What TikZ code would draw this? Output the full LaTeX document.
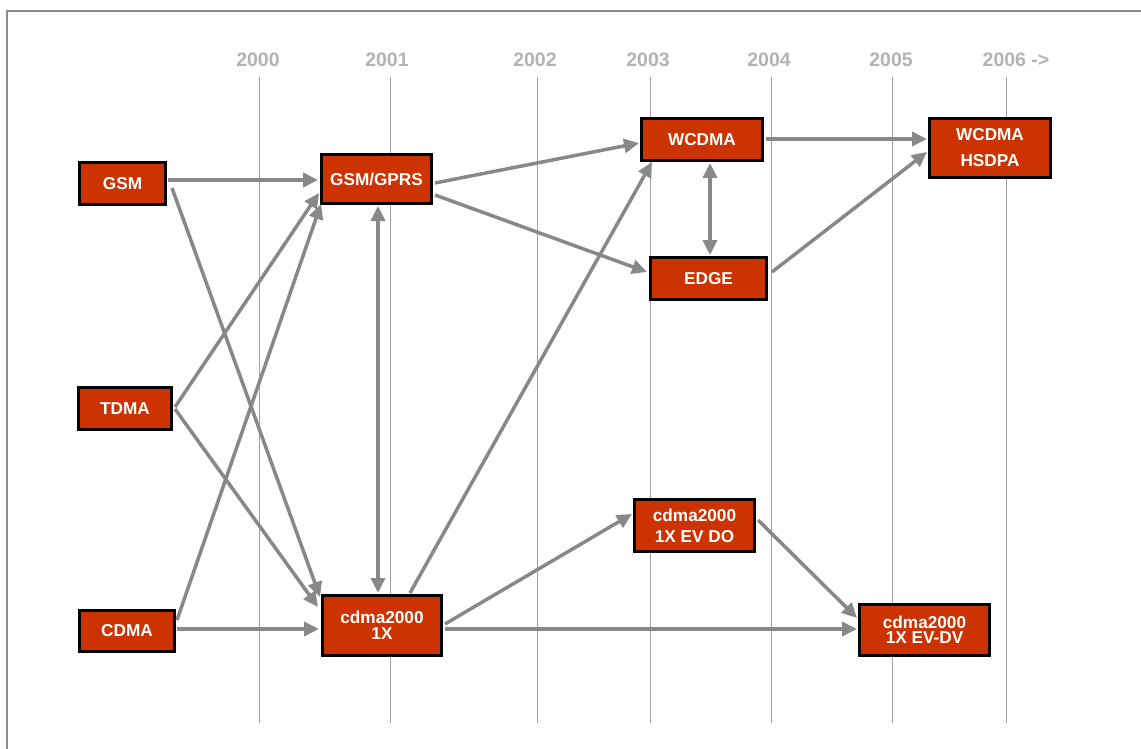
\documentclass[tikz,border=0pt]{standalone}
\usepackage{fontspec}
\setmainfont{Liberation Sans}
\usetikzlibrary{calc,arrows.meta}
\definecolor{boxred}{HTML}{CC3300}
\definecolor{arrowgray}{HTML}{888888}
\definecolor{yeargray}{HTML}{B3B3B3}
\definecolor{gridgray}{HTML}{A0A0A0}
\definecolor{framegray}{HTML}{8C8C8C}
\begin{document}
\begin{tikzpicture}[x=1pt,y=-1pt,
  tech/.style={draw=black, line width=3pt, fill=boxred, text=white,
    font=\bfseries\fontsize{17.2}{18}\selectfont, inner sep=0pt, align=center},
  year/.style={text=yeargray, font=\bfseries\fontsize{19.5}{20}\selectfont, inner sep=0pt},
  gridline/.style={gridgray, line width=1pt},
  link/.style={arrowgray, line width=3.5pt, -{Triangle[length=15pt,width=14pt]}},
  twoway/.style={arrowgray, line width=3.5pt,
    {Triangle[length=15pt,width=14pt]}-{Triangle[length=15pt,width=14pt]}},
]
\clip (0,0) rectangle (1141,749);
% outer frame
\draw[framegray, line width=2.5pt] (7,11) rectangle (1170,780);

% year labels and grid lines
\node[year] (y2000) at (258,60) {2000};
\node[year] (y2001) at (387,60) {2001};
\node[year] (y2002) at (535,60) {2002};
\node[year] (y2003) at (648,60) {2003};
\node[year] (y2004) at (769,60) {2004};
\node[year] (y2005) at (891,60) {2005};
\node[year] (y2006) at (1016,60) {2006 ->};
\foreach \x in {259,390,537,650,771,892,1006}
  \draw[gridline] (\x,77) -- (\x,723);

% technologies
\node[tech, minimum width=86pt,  minimum height=42pt] (gsm)   at (122.5,183.5) {GSM};
\node[tech, minimum width=110pt, minimum height=49pt] (gprs)  at (376.5,179)   {GSM/GPRS};
\node[tech, minimum width=121pt, minimum height=42pt] (wcdma) at (702,139.5)   {WCDMA};
\node[tech, minimum width=121pt, minimum height=59pt,
      font=\bfseries\fontsize{17.2}{26}\selectfont] (hsdpa) at (990,148) {WCDMA\\HSDPA};
\node[tech, minimum width=116pt, minimum height=42pt] (edge)  at (708.5,278.5) {EDGE};
\node[tech, minimum width=93pt,  minimum height=42pt] (tdma)  at (125,408.5)   {TDMA};
\node[tech, minimum width=95pt,  minimum height=41pt] (cdma)  at (127,631)     {CDMA};
\node[tech, minimum width=119pt, minimum height=60pt,
      font=\bfseries\fontsize{17.2}{15.5}\selectfont] (onex) at (382,625.5) {cdma2000\\1X};
\node[tech, minimum width=120pt, minimum height=52pt,
      font=\bfseries\fontsize{17.2}{21}\selectfont] (evdo) at (694.5,525.5) {cdma2000\\1X EV DO};
\node[tech, minimum width=130pt, minimum height=51pt,
      font=\bfseries\fontsize{17.2}{15}\selectfont] (evdv) at (924.5,630) {cdma2000\\1X EV-DV};

% migration paths
\draw[link]   ($(gsm)+(45.5,-3.5)$)  -- ($(gprs)+(-58.5,1)$);
\draw[link]   ($(gsm)+(49.5,4.5)$)   -- ($(onex)+(-62,-28.5)$);
\draw[link]   ($(tdma)+(50,-1.5)$)   -- ($(gprs)+(-57.5,14)$);
\draw[link]   ($(tdma)+(50,0.5)$)    -- ($(onex)+(-64,-18.5)$);
\draw[link]   ($(cdma)+(50,-11)$)    -- ($(gprs)+(-55.5,25)$);
\draw[link]   ($(cdma)+(50,-2)$)     -- ($(onex)+(-63,3.5)$);
\draw[twoway] ($(gprs)+(1.5,27)$)    -- ($(onex)+(-4,-32.5)$);
\draw[link]   ($(gprs)+(58.5,4)$)    -- ($(wcdma)+(-63,3.5)$);
\draw[link]   ($(gprs)+(58.5,16)$)   -- ($(edge)+(-61.5,-6.5)$);
\draw[link]   ($(onex)+(28,-32.5)$)  -- ($(wcdma)+(-50,22.5)$);
\draw[link]   ($(onex)+(63,-1.5)$)   -- ($(evdo)+(-62.5,-11.5)$);
\draw[link]   ($(onex)+(63,3.5)$)    -- ($(evdv)+(-67.5,-1)$);
\draw[twoway] ($(wcdma)+(8,23.5)$)   -- ($(edge)+(1.5,-23.5)$);
\draw[link]   ($(wcdma)+(64,-0.5)$)  -- ($(hsdpa)+(-63,-9)$);
\draw[link]   ($(edge)+(63.5,-6.5)$) -- ($(hsdpa)+(-63,4)$);
\draw[link]   ($(evdo)+(63.5,-5.5)$) -- ($(evdv)+(-67.5,-12)$);
\end{tikzpicture}
\end{document}
